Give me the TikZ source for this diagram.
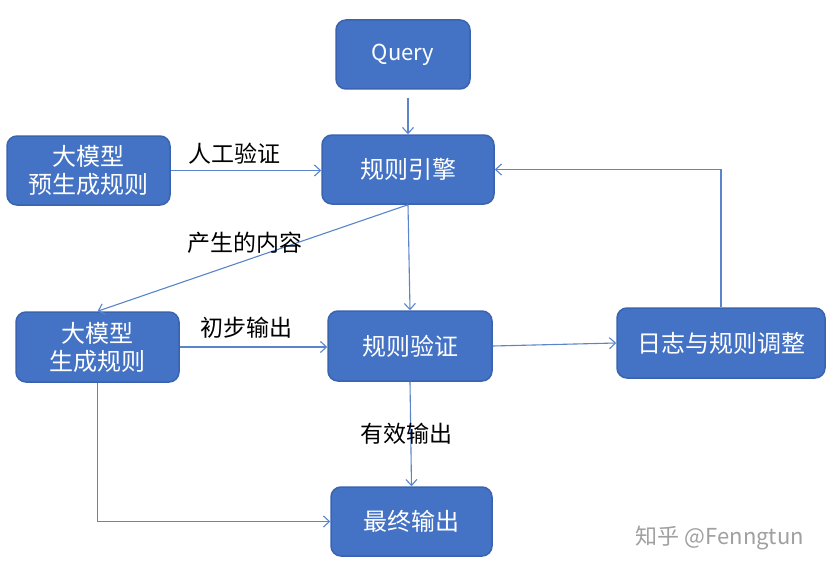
\documentclass[tikz,border=0pt]{standalone}
\usepackage{fontspec}
\setmainfont{Noto Sans CJK SC}
\usetikzlibrary{arrows.meta}
\definecolor{boxfill}{HTML}{4472C4}
\definecolor{boxborder}{HTML}{3A63B0}
\definecolor{linec}{HTML}{5A85CA}
\definecolor{wm}{HTML}{A0A0A0}
\begin{document}
\begin{tikzpicture}[x=1pt,y=-1pt,
  box/.style={draw=boxborder, fill=boxfill, rounded corners=10pt, line width=1.5pt, text=white,
    font=\fontsize{24}{28}\selectfont, align=center, inner sep=0pt},
  conn/.style={draw=linec, line width=1.1pt, -{Straight Barb[length=6pt,width=11pt]}},
  lab/.style={font=\fontsize{23}{26}\selectfont, text=black, inner sep=0pt}]
\useasboundingbox[fill=white] (0,0) rectangle (837,575);
\node[box, minimum width=134pt, minimum height=69pt, font=\fontsize{22}{26}\selectfont] (q) at (403,54.5) {Query};
\node[box, minimum width=172pt, minimum height=69pt] (engine) at (408,169.5) {规则引擎};
\node[box, minimum width=163pt, minimum height=69pt] (pre) at (88.5,170.5) {大模型\\预生成规则};
\node[box, minimum width=163pt, minimum height=70pt] (gen) at (97.5,347) {大模型\\生成规则};
\node[box, minimum width=164pt, minimum height=70pt] (verify) at (410,346) {规则验证};
\node[box, minimum width=208pt, minimum height=70pt] (log) at (721,343) {日志与规则调整};
\node[box, minimum width=161pt, minimum height=69pt] (final) at (411.5,521.5) {最终输出};

\draw[conn, shorten <=8pt] (engine.north |- q.south) -- (engine.north);
\draw[conn] (pre.east) -- (pre.east -| engine.west);
\draw[conn] (engine.south) -- (gen.north);
\draw[conn] (engine.south) -- (verify.north);
\draw[conn] (gen.east) -- (gen.east -| verify.west);
\draw[conn] (verify.east) -- (log.west);
\draw[conn] (log.north) |- (engine.east);
\draw[conn] (verify.south) -- (final.north);
\draw[conn] (gen.south) |- (final.west);

\node[lab] (l1) at (234,154) {人工验证};
\node[lab] (l2) at (245,243) {产生的内容};
\node[lab] (l3) at (246,328) {初步输出};
\node[lab] (l4) at (406,434) {有效输出};
\node[font=\fontsize{22}{24}\selectfont, text=wm, inner sep=0pt] (wmk) at (720,538) {知乎 @Fenngtun};
\end{tikzpicture}
\end{document}
